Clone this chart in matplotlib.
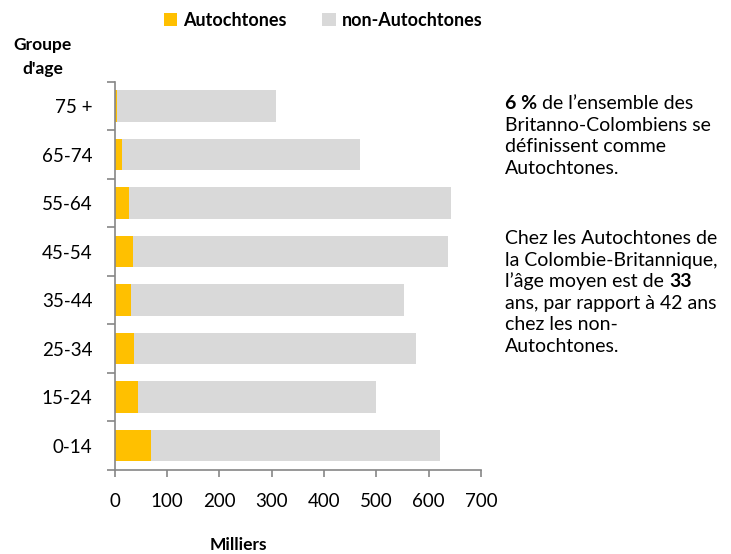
import matplotlib.pyplot as plt
import numpy as np

plt.rcParams['font.family'] = ['Lato', 'DejaVu Sans']

# Age groups (bottom to top) and population in thousands
groups = ['0-14', '15-24', '25-34', '35-44', '45-54', '55-64', '65-74', '75 +']
autochtones = [70, 44, 36, 31, 34, 27, 13, 5]
non_autochtones = [552, 455, 539, 522, 602, 616, 455, 303]

yellow = '#FFC000'
grey = '#D9D9D9'
axis_col = '#868686'

fig = plt.figure(figsize=(7.31, 5.54), dpi=100)
ax = fig.add_axes([0.157, 0.152, 0.501, 0.700])

y = np.arange(len(groups))
ax.barh(y, autochtones, height=0.65, color=yellow, label='Autochtones')
ax.barh(y, non_autochtones, left=autochtones, height=0.65, color=grey,
        label='non-Autochtones')

ax.set_xlim(0, 700)
ax.set_ylim(-0.5, len(groups) - 0.5)
ax.set_xticks(range(0, 701, 100))
ax.set_yticks(y)
ax.set_yticklabels(groups)
ax.set_yticks(np.arange(-0.5, len(groups), 1), minor=True)

for s in ['top', 'right']:
    ax.spines[s].set_visible(False)
for s in ['left', 'bottom']:
    ax.spines[s].set_color(axis_col)
    ax.spines[s].set_linewidth(1.2)

ax.tick_params(axis='x', length=5, width=1.2, color=axis_col, pad=12,
               labelsize=13.5, labelcolor='black')
ax.tick_params(axis='y', which='major', length=0, pad=16, labelsize=13.5)
ax.tick_params(axis='y', which='minor', length=6, width=1.2, color=axis_col)

fig.legend(loc='center', bbox_to_anchor=(323 / 731, 1 - 20 / 554), ncol=2,
           frameon=False, handlelength=0.75, handleheight=0.75,
           handletextpad=0.3, columnspacing=2.0,
           prop={'weight': 'bold', 'size': 13})

fig.text(43 / 731, 1 - 57 / 554, "Groupe\nd'age", ha='center', va='center',
         fontsize=12.5, fontweight='bold', linespacing=1.6)
fig.text(238 / 731, 1 - 545 / 554, 'Milliers', ha='center', va='center',
         fontsize=12.5, fontweight='bold')

# side note, line by line (bold pieces chained after the regular text)
fs = 14
x0 = 505 / 731
lh = 21.6 / 554
y_top = 1 - 112 / 554
t = fig.text(x0, y_top, '6 %', fontsize=fs, fontweight='bold', va='bottom')
ax.annotate(' de l’ensemble des', xy=(1, 0), xycoords=t, va='bottom',
            fontsize=fs, annotation_clip=False)
lines = ['Britanno-Colombiens se', 'définissent comme', 'Autochtones.']
for i, s in enumerate(lines):
    fig.text(x0, y_top - (i + 1) * lh, s, fontsize=fs, va='bottom')

y2 = y_top - 6.25 * lh
lines2 = ['Chez les Autochtones de', 'la Colombie-Britannique,']
for i, s in enumerate(lines2):
    fig.text(x0, y2 - i * lh, s, fontsize=fs, va='bottom')
t = fig.text(x0, y2 - 2 * lh, 'l’âge moyen est de ', fontsize=fs, va='bottom')
ax.annotate('33', xy=(1, 0), xycoords=t, va='bottom', fontsize=fs,
            fontweight='bold', annotation_clip=False)
lines3 = ['ans, par rapport à 42 ans', 'chez les non-', 'Autochtones.']
for i, s in enumerate(lines3):
    fig.text(x0, y2 - (i + 3) * lh, s, fontsize=fs, va='bottom')

fig.savefig('out.png', dpi=100)
